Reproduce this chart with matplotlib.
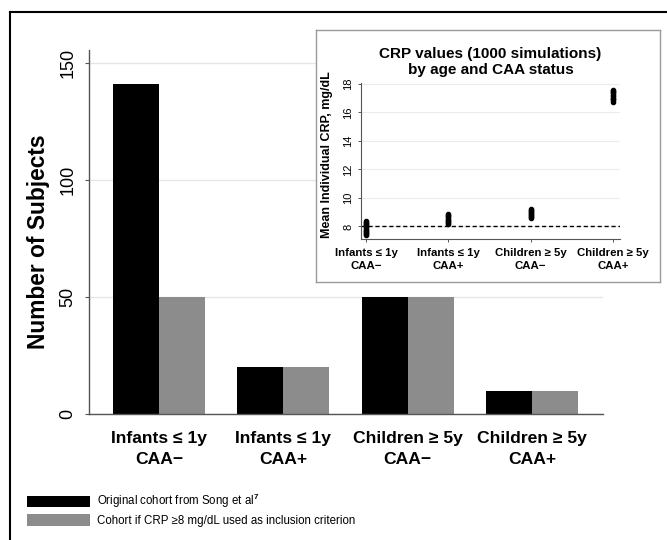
import numpy as np
import matplotlib
matplotlib.use("Agg")
import matplotlib.pyplot as plt
from matplotlib.lines import Line2D

plt.rcParams['font.family'] = ['Liberation Sans', 'DejaVu Sans']
plt.rcParams['mathtext.fontset'] = 'custom'
plt.rcParams['mathtext.rm'] = 'Liberation Sans'
plt.rcParams['mathtext.bf'] = 'Liberation Sans:bold'

# main bar chart data
groups = ["Infants \u2264 1y\nCAA\u2212", "Infants \u2264 1y\nCAA+",
          "Children \u2265 5y\nCAA\u2212", "Children \u2265 5y\nCAA+"]
original_cohort = [141, 20, 50, 10]
crp_cohort = [50, 20, 50, 10]
legend_labels = [r"Original cohort from Song et al$^{\mathbf{7}}$",
                 "Cohort if CRP \u22658 mg/dL used as inclusion criterion"]

crp_infants_neg = [7.38, 7.45, 7.55, 7.62, 7.7, 7.78, 7.85, 7.93, 8.0, 8.08, 8.15, 8.22, 8.3, 8.35]
crp_infants_pos = [8.14, 8.22, 8.3, 8.4, 8.48, 8.55, 8.63, 8.7, 8.78, 8.84]
crp_children_neg = [8.56, 8.63, 8.7, 8.78, 8.85, 8.92, 9.0, 9.07, 9.13, 9.19]
crp_children_pos = [16.77, 16.85, 16.95, 17.05, 17.15, 17.25, 17.35, 17.45, 17.53, 17.61]
crp_threshold = 8

W, H = 667, 540


def rect(l, t, r, b):
    return [l / W, 1 - b / H, (r - l) / W, (b - t) / H]


fig = plt.figure(figsize=(W / 100, H / 100), dpi=100)

# outer frame (top and left edges only visible)
fig.add_artist(Line2D([10 / W, 1], [1 - 12 / H, 1 - 12 / H], transform=fig.transFigure,
                      color='black', lw=1.5))
fig.add_artist(Line2D([10 / W, 10 / W], [0, 1 - 12 / H], transform=fig.transFigure,
                      color='black', lw=1.5))

# main axes
ax = fig.add_axes(rect(89, 50, 603, 414))
x = np.arange(len(groups))
w = 0.37
b1 = ax.bar(x - w / 2, original_cohort, w, color='black', linewidth=0, label=legend_labels[0])
b2 = ax.bar(x + w / 2, crp_cohort, w, color='#8c8c8c', linewidth=0, label=legend_labels[1])
ax.set_xlim(-0.562, 3.57)
ax.set_ylim(0, 155.5)
ax.set_yticks([0, 50, 100, 150])
ax.yaxis.grid(True, color='#e6e6e6', lw=1)
ax.set_axisbelow(True)
for s in ['top', 'right']:
    ax.spines[s].set_visible(False)
for s in ['left', 'bottom']:
    ax.spines[s].set_color('#555555')
    ax.spines[s].set_linewidth(1)
ax.tick_params(axis='y', length=3, width=0.8, color='#555555', pad=6,
               labelsize=13, labelrotation=90)
for lbl in ax.get_yticklabels():
    lbl.set_va('center')
ax.set_xticks(x, groups, fontsize=12.6, fontweight='bold', linespacing=1.55)
ax.tick_params(axis='x', length=0, pad=12)
fig.text(39 / W, 1 - 242 / H, "Number of Subjects", rotation=90, fontsize=16.4,
         fontweight='bold', ha='center', va='center')

# legend below the chart
fig.legend(handles=[b1, b2], labels=legend_labels, loc='upper left',
           bbox_to_anchor=(27 / W, 1 - 492 / H), frameon=False, fontsize=8.3,
           handlelength=5.5, handleheight=1.13, handletextpad=0.6,
           labelspacing=0.35, borderpad=0, borderaxespad=0)

# inset box
box = fig.add_axes(rect(316, 30, 660, 282))
box.set_xticks([])
box.set_yticks([])
for s in box.spines.values():
    s.set_color('#9a9a9a')
    s.set_linewidth(1)

# inset axes
ax2 = fig.add_axes(rect(361, 82.6, 620, 238.5))
ax2.set_facecolor('none')
series = [crp_infants_neg, crp_infants_pos, crp_children_neg, crp_children_pos]
for i, vals in enumerate(series):
    ax2.plot(np.full(len(vals), i), vals, 'o', ms=3, color='black', zorder=3)
ax2.axhline(crp_threshold, color='black', lw=1, linestyle=(0, (3, 2)), zorder=2)
ax2.set_xlim(-0.061, 3.085)
ax2.set_ylim(7.15, 18.1)
ax2.set_yticks([8, 10, 12, 14, 16, 18])
ax2.yaxis.grid(True, color='#ececec', lw=0.8)
ax2.set_axisbelow(True)
for s in ['top', 'right']:
    ax2.spines[s].set_visible(False)
for s in ['left', 'bottom']:
    ax2.spines[s].set_color('#555555')
    ax2.spines[s].set_linewidth(0.8)
ax2.tick_params(axis='y', length=2.2, width=0.7, color='#555555', pad=3.5,
                labelsize=8, labelrotation=90)
for lbl in ax2.get_yticklabels():
    lbl.set_va('center')
ax2.set_xticks(x, groups, fontsize=8.2, fontweight='bold', linespacing=1.4)
ax2.tick_params(axis='x', length=2.2, width=0.7, color='#555555', pad=4.5)
ax2.set_title("CRP values (1000 simulations)\nby age and CAA status", fontsize=11,
              fontweight='bold', linespacing=1.25, pad=6)
fig.text(327 / W, 1 - 155 / H, "Mean Individual CRP, mg/dL", rotation=90, fontsize=9,
         fontweight='bold', ha='center', va='center')

fig.savefig("out.png", dpi=100)
